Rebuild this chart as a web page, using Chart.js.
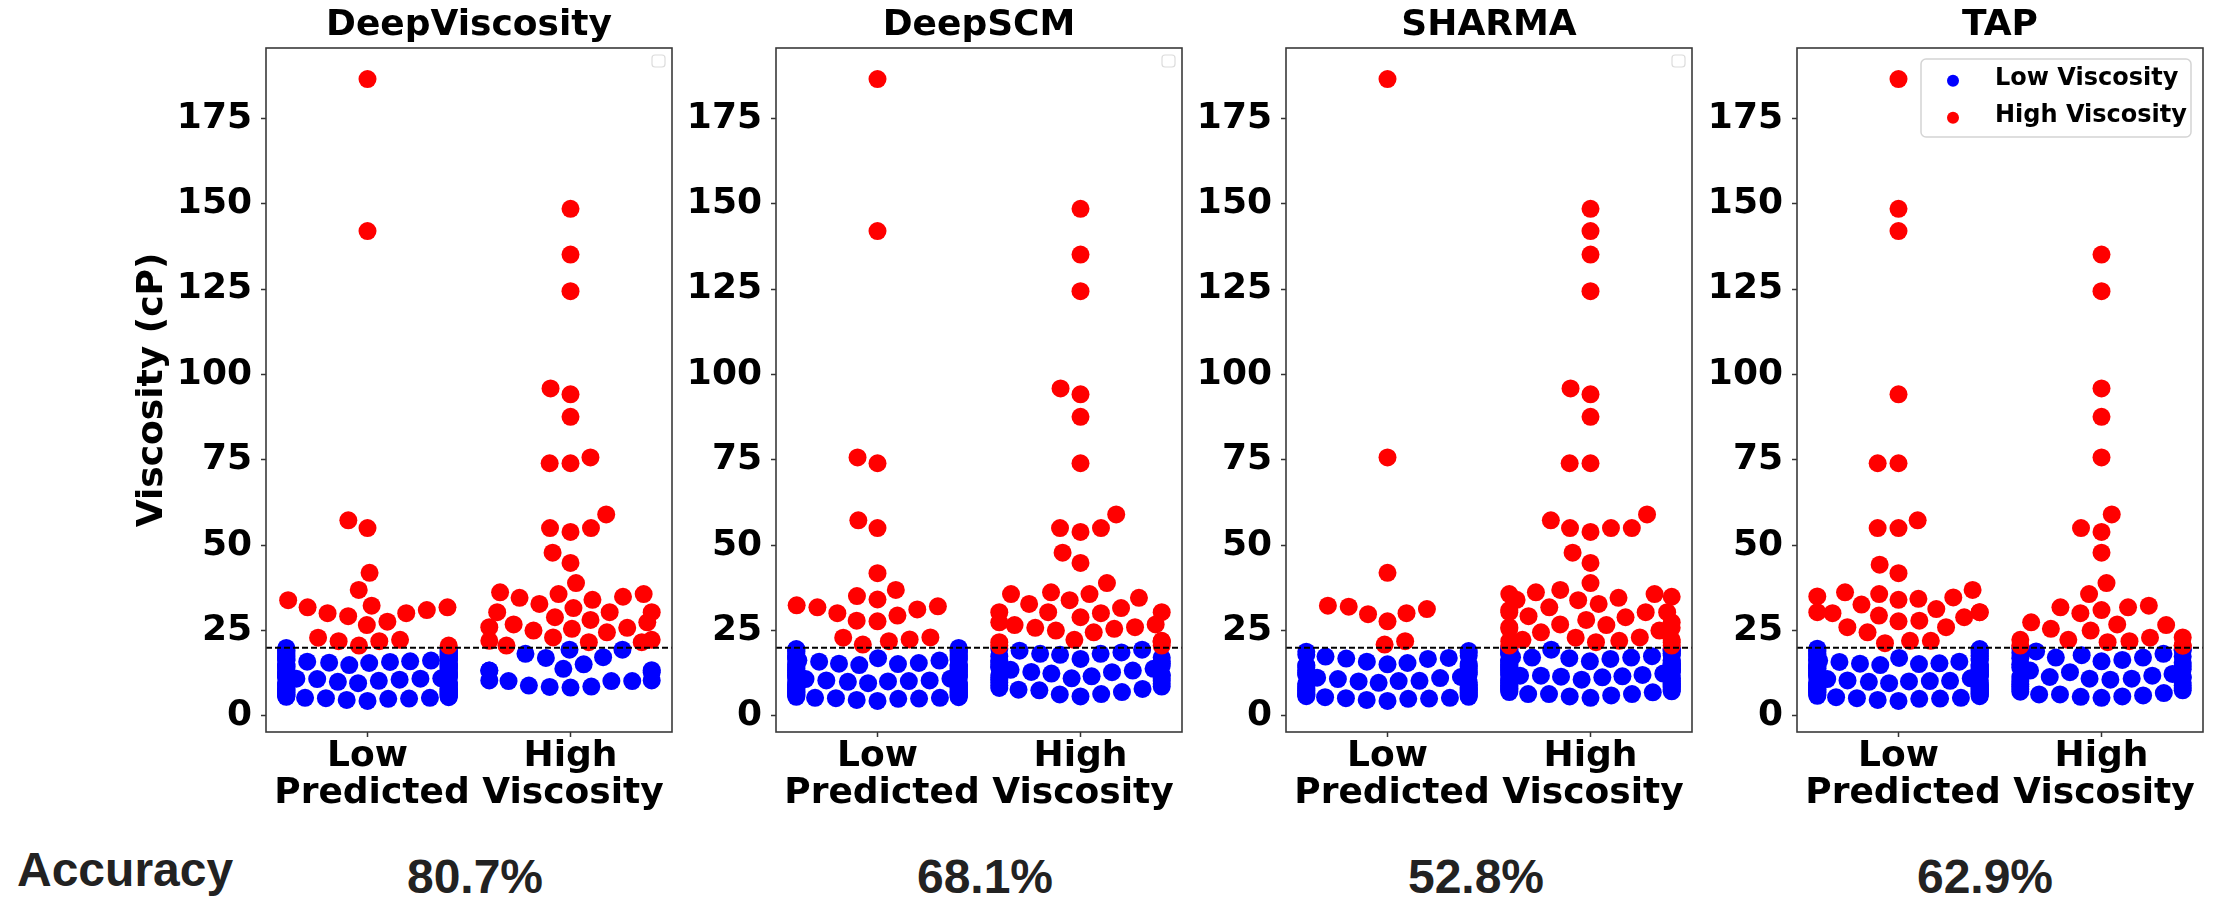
<!DOCTYPE html>
<html>
<head>
<meta charset="utf-8">
<title>Predicted viscosity swarm plots</title>
<script src="https://cdn.jsdelivr.net/npm/chart.js@4.4.0/dist/chart.umd.min.js"></script>
<style>
  html, body { margin: 0; padding: 0; background: #fff; }
  body { width: 2213px; height: 897px; position: relative; overflow: hidden; }
  canvas { position: absolute; top: 0; }
  .acc { position: absolute; font-family: 'Liberation Sans', Arial, sans-serif; font-weight: bold;
         font-size: 48px; line-height: 48px; color: #222; white-space: nowrap; }
  .pct { width: 240px; text-align: center; }
</style>
</head>
<body>
<div class="acc" style="left:17px; top:846px;">Accuracy</div>

<script>
// ---- data ----
const models = ['DeepViscosity', 'DeepSCM', 'SHARMA', 'TAP'];
const groupLabels = ['Low', 'High'];
const yTicks = [0, 25, 50, 75, 100, 125, 150, 175];
const accuracy = ['80.7%', '68.1%', '52.8%', '62.9%'];
const threshold = 20; // cP, boundary between low and high viscosity

// measured viscosity (cP) of the samples below the threshold
const lowSamples = [
  4.4, 4.7,
  5.0, 5.1, 5.2, 5.3, 5.3, 5.5, 5.6, 5.7, 5.8, 5.9,
  6.0, 6.1, 6.2, 6.3, 6.3, 6.4, 6.5, 6.6, 6.7, 6.9, 6.9,
  7.0, 7.1, 7.2, 7.3, 7.4, 7.5, 7.6, 7.7, 7.8, 7.9, 7.9,
  8.0, 8.1, 8.2, 8.3, 8.4, 8.5, 8.6, 8.6, 8.8, 8.9, 8.9,
  9.0, 9.1, 9.2, 9.3, 9.4, 9.5, 9.6, 9.7, 9.8, 9.9,
  10.0, 10.1, 10.2, 10.2, 10.3, 10.4, 10.4, 10.6, 10.8, 10.9, 10.9,
  11.0, 11.1, 11.2, 11.3, 11.4, 11.5, 11.6, 11.7, 11.8, 11.9, 11.9,
  12.0, 12.0, 12.1, 12.2, 12.3, 12.4, 12.6, 12.7, 12.8, 12.8, 12.9,
  13.0, 13.2, 13.3, 13.3, 13.4, 13.5, 13.7, 13.8, 13.8,
  14.0, 14.1, 14.2, 14.3, 14.4, 14.5, 14.6, 14.6, 14.7, 14.8, 14.9,
  15.0, 15.1, 15.1, 15.2, 15.3, 15.4, 15.5, 15.6, 15.8, 15.9,
  16.0, 16.2, 16.2, 16.3, 16.4, 16.5, 16.7, 16.7, 16.8, 16.9,
  17.0, 17.1, 17.2, 17.3, 17.4, 17.5, 17.6, 17.7, 17.9,
  18.0, 18.2, 18.2, 18.3, 18.5, 18.6, 18.8, 18.9,
  19.0, 19.1, 19.2, 19.4, 19.4, 19.5, 19.6, 19.7, 19.9
];

// measured viscosity (cP) of the samples above the threshold
const highSamples = [
  186.5, 148.5, 142, 135.1, 124.4, 95.9, 94.2, 87.6, 75.7, 74, 74, 59, 57.3,
  55, 55, 55, 53.9, 47.8, 44.8, 41.9, 38.9, 36.9, 36.2, 35.7, 35.7, 34.9, 34.6,
  34, 33.9, 32.8, 32.3, 31.8, 31.8, 31.6, 31, 30.4, 30.4, 30.4, 30.1, 30.1,
  29.2, 28.9, 28.1, 27.6, 27.4, 26.8, 26.6, 26, 25.8, 25.5, 25, 24.5, 23, 22.9,
  22.3, 22.3, 22, 21.9, 21.9, 21.6, 21.6, 20.6, 20.6, 20.6
];

// low-viscosity samples that each model put in the "High" bin
const deepViscosityLowAsHigh = [8.3, 8.5, 8.6, 8.9, 10.2, 10.2, 10.2, 10.4, 10.4, 12.8,
  13.3, 13.3, 13.4, 13.8, 15.1, 17.0, 17.2, 18.2, 19.4, 19.4];
const deepScmLowAsHigh = [5.7, 6.3, 6.4, 7.0, 7.5, 7.7, 7.9, 8.2, 8.6, 8.9, 9.4, 9.8, 10.3,
  10.6, 10.9, 11.0, 11.2, 11.6, 11.9, 12.0, 12.0, 12.4, 12.8, 12.9, 13.3, 13.5, 13.8,
  14.2, 14.4, 14.6, 15.0, 15.4, 15.8, 16.0, 16.2, 16.7, 17.1, 17.5, 17.9, 18.2, 18.2,
  18.6, 19.1, 19.4, 19.7];
const sharmaLowAsHigh = [5.3, 5.7, 6.0, 6.4, 6.4, 6.4, 6.9, 7.0, 7.2, 7.4, 7.6, 7.8, 7.9,
  8.1, 8.3, 8.5, 8.6, 8.8, 8.9, 9.0, 9.3, 9.4, 9.6, 9.8, 10.0, 10.2, 10.4, 10.4, 10.6,
  10.9, 10.9, 11.0, 11.3, 11.5, 11.6, 11.8, 11.8, 11.8, 11.8, 12.0, 12.1, 12.4, 12.6,
  12.8, 12.9, 13.0, 13.3, 13.4, 13.5, 13.7, 13.8, 14.0, 14.2, 14.3, 14.5, 14.6, 14.8,
  15.0, 15.1, 15.3, 15.3, 15.6, 15.8, 16.0, 16.2, 16.2, 16.2, 16.4, 16.4, 16.7, 16.9,
  17.1, 17.1, 17.2, 17.5, 17.7, 18.0, 18.2, 18.2, 18.3, 18.6, 18.9, 19.1, 19.2, 19.4,
  19.4, 19.5, 19.6, 19.7, 19.9];
const tapLowAsHigh = [5.3, 5.6, 5.7, 6.0, 6.3, 6.3, 6.7, 7.1, 7.5, 7.9, 8.2, 8.6, 8.9, 9.3,
  9.7, 10.2, 10.6, 10.9, 10.9, 11.2, 11.4, 11.4, 11.4, 11.8, 12.3, 12.8, 13.3, 13.7,
  14.2, 14.6, 15.1, 15.6, 16.0, 16.4, 16.9, 17.1, 17.1, 17.4, 17.8, 18.2, 18.5, 18.9,
  19.2, 19.5, 19.8];

// high-viscosity samples that each model put in the "Low" bin
const deepViscosityHighAsLow = [186.5, 142, 57.3, 55, 41.9, 36.9, 33.9, 32.3, 31.8, 31.8,
  31, 30.1, 30.1, 29.2, 27.6, 26.6, 22.9, 22.3, 21.9, 21.9, 20.6, 20.6];
const deepScmHighAsLow = [186.5, 142, 75.7, 74, 57.3, 55, 41.8, 36.9, 35.1, 34.1, 32.4,
  32.1, 31.8, 31.2, 30.1, 29.4, 27.9, 27.7, 23, 22.9, 22.4, 21.9, 20.9];
const sharmaHighAsLow = [186.5, 75.7, 41.9, 32.3, 32, 31.3, 30.1, 29.8, 27.7, 21.9, 20.9];
const tapHighAsLow = [186.5, 148.5, 142, 94.2, 74, 74, 57.3, 55, 55, 44.3, 41.8, 36.9,
  36.2, 35.7, 35, 34.7, 34.3, 34, 32.6, 31.3, 30.4, 30.4, 30.4, 30.1, 29.4, 28.9, 27.9,
  27.7, 26, 26, 24.5, 22, 22, 21.3];

const lowAsHigh = [deepViscosityLowAsHigh, deepScmLowAsHigh, sharmaLowAsHigh, tapLowAsHigh];
const highAsLow = [deepViscosityHighAsLow, deepScmHighAsLow, sharmaHighAsLow, tapHighAsLow];

// ---- layout / style ----
const FONT = '"DejaVu Sans", sans-serif';
const BLUE = '#0000ff';
const RED = '#ff0000';
const AREA_LEFT = [266, 776, 1286, 1797];
const AREA_WIDTH = 409;
const AXIS_W = [166, 100, 100, 100];
const PAD_RIGHT = 6;
const CANVAS_H = 830;
const PCT_CENTER = [475, 985, 1476, 1985];
const DOT_R = 9;
const DOT_GAP = 20; // collision diameter used by the swarm layout

// y limits like matplotlib autoscale: data range plus 5% each side
const allValues = lowSamples.concat(highSamples);
const dataMin = Math.min(...allValues), dataMax = Math.max(...allValues);
const yMin = dataMin - 0.05 * (dataMax - dataMin);
const yMax = dataMax + 0.05 * (dataMax - dataMin);

// take the closest match of every pick out of the pool, return what is left
function without(pool, picks) {
  const rest = pool.slice();
  picks.forEach(v => {
    let best = 0;
    rest.forEach((r, i) => { if (Math.abs(r - v) < Math.abs(rest[best] - v)) best = i; });
    rest.splice(best, 1);
  });
  return rest;
}

// beeswarm: points in value order, each pushed to the nearest free spot
function swarm(values, toPx, d, half) {
  const order = values.map((v, i) => i).sort((a, b) => values[a] - values[b]);
  const placed = [];
  const off = new Array(values.length).fill(0);
  order.forEach(i => {
    const y = toPx(values[i]);
    const near = [];
    for (let k = placed.length - 1; k >= 0; k--) {
      if (Math.abs(placed[k].y - y) < d) near.push(placed[k]);
      else break;
    }
    const cands = [0];
    let leftFirst = true;
    near.forEach(q => {
      const dx = Math.sqrt(Math.max(d * d - (y - q.y) ** 2, 0)) * 1.05;
      if (leftFirst) cands.push(q.x - dx, q.x + dx); else cands.push(q.x + dx, q.x - dx);
      leftFirst = !leftFirst;
    });
    cands.sort((a, b) => Math.abs(a) - Math.abs(b));
    let x = 0;
    for (const c of cands) {
      if (near.every(q => (q.x - c) ** 2 + (q.y - y) ** 2 >= d * d)) { x = c; break; }
    }
    placed.push({ x, y });
    off[i] = Math.max(-half, Math.min(half, x)); // overflow goes to the gutter
  });
  return off;
}

function placeSwarm(chart, bins) {
  const xs = chart.scales.x, ys = chart.scales.y;
  const unit = xs.getPixelForValue(1) - xs.getPixelForValue(0);
  const blue = [], red = [];
  bins.forEach((bin, g) => {
    const vals = bin.blue.concat(bin.red);
    const off = swarm(vals, v => ys.getPixelForValue(v), DOT_GAP, 0.4 * unit);
    vals.forEach((v, k) => {
      (k < bin.blue.length ? blue : red).push({ x: g + off[k] / unit, y: v });
    });
  });
  chart.data.datasets[0].data = blue;
  chart.data.datasets[1].data = red;
}

// axes frame on all four sides
const frame = {
  id: 'frame',
  afterDatasetsDraw(chart) {
    const { ctx, chartArea: a } = chart;
    ctx.save();
    ctx.strokeStyle = '#3a3a3a';
    ctx.lineWidth = 1.6;
    ctx.strokeRect(a.left, a.top, a.right - a.left, a.bottom - a.top);
    ctx.restore();
  }
};

// legend box in the top right corner (empty frame when not shown in full)
const cornerLegend = {
  id: 'cornerLegend',
  afterDatasetsDraw(chart, args, opts) {
    const { ctx, chartArea: a } = chart;
    ctx.save();
    if (opts.full) {
      const w = 270, h = 78, x = a.right - 12 - w, y = a.top + 11;
      ctx.fillStyle = 'rgba(255,255,255,0.8)';
      ctx.strokeStyle = '#d4d4d4';
      ctx.lineWidth = 1.5;
      ctx.beginPath();
      ctx.roundRect(x, y, w, h, 5);
      ctx.fill();
      ctx.stroke();
      chart.data.datasets.slice(0, 2).forEach((ds, k) => {
        const cy = y + 21.7 + k * 37;
        ctx.fillStyle = ds.backgroundColor;
        ctx.beginPath();
        ctx.arc(x + 32, cy, 6, 0, Math.PI * 2);
        ctx.fill();
        ctx.fillStyle = '#000';
        ctx.font = 'bold 24px ' + FONT;
        ctx.textBaseline = 'middle';
        ctx.fillText(ds.label, x + 74, cy - 2);
      });
    } else {
      ctx.strokeStyle = '#dcdcdc';
      ctx.lineWidth = 1.2;
      ctx.beginPath();
      ctx.roundRect(a.right - 20, a.top + 7, 13, 12, 3);
      ctx.stroke();
    }
    ctx.restore();
  }
};

models.forEach((name, m) => {
  const canvas = document.createElement('canvas');
  const width = AXIS_W[m] + AREA_WIDTH + PAD_RIGHT;
  canvas.width = width;
  canvas.height = CANVAS_H;
  canvas.style.left = (AREA_LEFT[m] - AXIS_W[m]) + 'px';
  canvas.style.width = width + 'px';
  canvas.style.height = CANVAS_H + 'px';
  document.body.appendChild(canvas);

  const pct = document.createElement('div');
  pct.className = 'acc pct';
  pct.style.left = (PCT_CENTER[m] - 120) + 'px';
  pct.style.top = '853px';
  pct.textContent = accuracy[m];
  document.body.appendChild(pct);

  const bins = [
    { blue: without(lowSamples, lowAsHigh[m]), red: highAsLow[m] },
    { blue: lowAsHigh[m], red: without(highSamples, highAsLow[m]) }
  ];

  const chart = new Chart(canvas, {
    type: 'scatter',
    data: {
      datasets: [
        { label: 'Low Viscosity', data: [], backgroundColor: BLUE, pointRadius: DOT_R,
          pointBorderWidth: 0, pointHoverRadius: DOT_R, order: 2 },
        { label: 'High Viscosity', data: [], backgroundColor: RED, pointRadius: DOT_R,
          pointBorderWidth: 0, pointHoverRadius: DOT_R, order: 1 },
        { type: 'line', label: 'threshold', data: [{ x: -0.5, y: threshold }, { x: 1.5, y: threshold }],
          borderColor: '#000', borderWidth: 2, borderDash: [6, 3], pointRadius: 0, order: 0 }
      ]
    },
    options: {
      responsive: false,
      animation: false,
      devicePixelRatio: 1,
      events: [],
      layout: { padding: { top: 0, right: PAD_RIGHT, bottom: 0, left: 0 } },
      plugins: {
        legend: { display: false },
        tooltip: { enabled: false },
        title: {
          display: true, text: name, fullSize: false, color: '#000',
          font: { family: FONT, size: 36, weight: 'bold', lineHeight: 1.2 },
          padding: { top: 4, bottom: 0.8 }
        },
        cornerLegend: { full: m === 3 }
      },
      scales: {
        x: {
          type: 'linear', min: -0.5, max: 1.5,
          afterBuildTicks: s => { s.ticks = groupLabels.map((g, i) => ({ value: i })); },
          afterFit: s => { s.height = CANVAS_H - 732; },
          ticks: {
            callback: v => groupLabels[v], color: '#000', padding: 2,
            font: { family: FONT, size: 36, weight: 'bold', lineHeight: 1 }
          },
          grid: { drawOnChartArea: false, drawTicks: true, tickLength: 5, tickColor: '#333', tickWidth: 1.5 },
          border: { display: false },
          title: {
            display: true, text: 'Predicted Viscosity', color: '#000',
            font: { family: FONT, size: 36, weight: 'bold', lineHeight: 1.2 },
            padding: { top: 0, bottom: 14.4 }
          }
        },
        y: {
          min: yMin, max: yMax,
          afterBuildTicks: s => { s.ticks = yTicks.map(v => ({ value: v })); },
          afterFit: s => { s.width = AXIS_W[m]; },
          ticks: {
            color: '#000', padding: 9,
            font: { family: FONT, size: 36, weight: 'bold', lineHeight: 1 }
          },
          grid: { drawOnChartArea: false, drawTicks: true, tickLength: 5, tickColor: '#333', tickWidth: 1.5 },
          border: { display: false },
          title: {
            display: m === 0, text: 'Viscosity (cP)', color: '#000',
            font: { family: FONT, size: 36, weight: 'bold', lineHeight: 1.2 },
            padding: { top: 30.8, bottom: 0 }
          }
        }
      }
    },
    plugins: [frame, cornerLegend]
  });

  placeSwarm(chart, bins);
  chart.update('none');
});
</script>
</body>
</html>
